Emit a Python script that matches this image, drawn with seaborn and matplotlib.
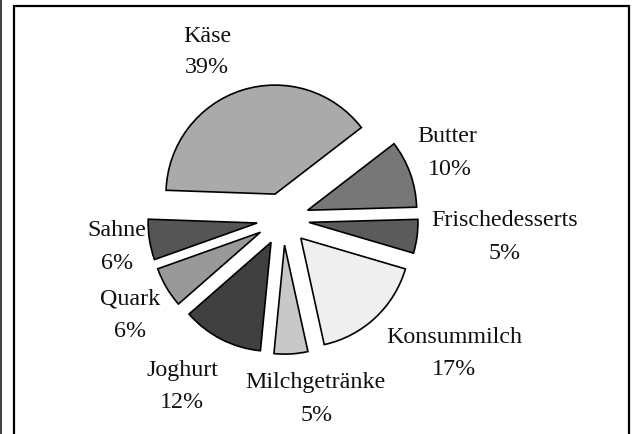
import matplotlib
matplotlib.use("Agg")
import matplotlib.pyplot as plt
import seaborn as sns
from matplotlib.patches import Rectangle

# Data
categories = ["Käse", "Butter", "Frischedesserts", "Konsummilch",
              "Milchgetränke", "Joghurt", "Quark", "Sahne"]
shares = [39, 10, 5, 17, 5, 12, 6, 6]

# Styling
colors = ["#aaaaaa", "#777777", "#5b5b5b", "#efefef",
          "#c8c8c8", "#404040", "#999999", "#555555"]
explode = [0.24] * len(shares)
# label centres in pixel coordinates (x from left, y from top): name line, percent line
name_px = [(207, 37), (447, 137), (505, 221), (454, 338),
           (315, 383), (182, 371), (130, 299), (117, 231)]
pct_px = [(207, 68), (450, 170), (505, 254), (454, 370),
          (317, 416), (182, 403), (130, 332), (117, 264)]

sns.set_theme(style="white")
plt.rcParams['font.family'] = ['Liberation Serif', 'DejaVu Serif']

W, H = 637, 435
fig = plt.figure(figsize=(W / 100, H / 100), dpi=100)
fig.patch.set_facecolor("white")
ax = fig.add_axes([0, 0, 1, 1])
R = 109.0
cx, cy = 283.0, 220.0

ax.pie(shares, colors=colors, explode=explode, startangle=178,
       counterclock=False, radius=1,
       wedgeprops=dict(edgecolor="black", linewidth=1.2))
ax.set_xlim(-cx / R, (W - cx) / R)
ax.set_ylim(-(H - cy) / R, cy / R)
ax.set_aspect("equal")
ax.axis("off")

for cat, v, (nx, ny), (px, py) in zip(categories, shares, name_px, pct_px):
    ax.text((nx - cx) / R, (cy - ny) / R, cat,
            ha="center", va="center", fontsize=17.3, color="#111111")
    ax.text((px - cx) / R, (cy - py) / R, f"{v}%",
            ha="center", va="center", fontsize=17.3, color="#111111")

# outer frame (open at the bottom) and gray strip on the left edge
fig.patches.append(Rectangle((13.8 / W, -0.05), (629 - 13.8) / W, 1 - 7 / H + 0.05,
                             transform=fig.transFigure, fill=False,
                             edgecolor="black", linewidth=1.6))
fig.patches.append(Rectangle((0, 0), 2.3 / W, 1, transform=fig.transFigure,
                             facecolor="#444444", edgecolor="none"))
fig.savefig("out.png", dpi=100)
